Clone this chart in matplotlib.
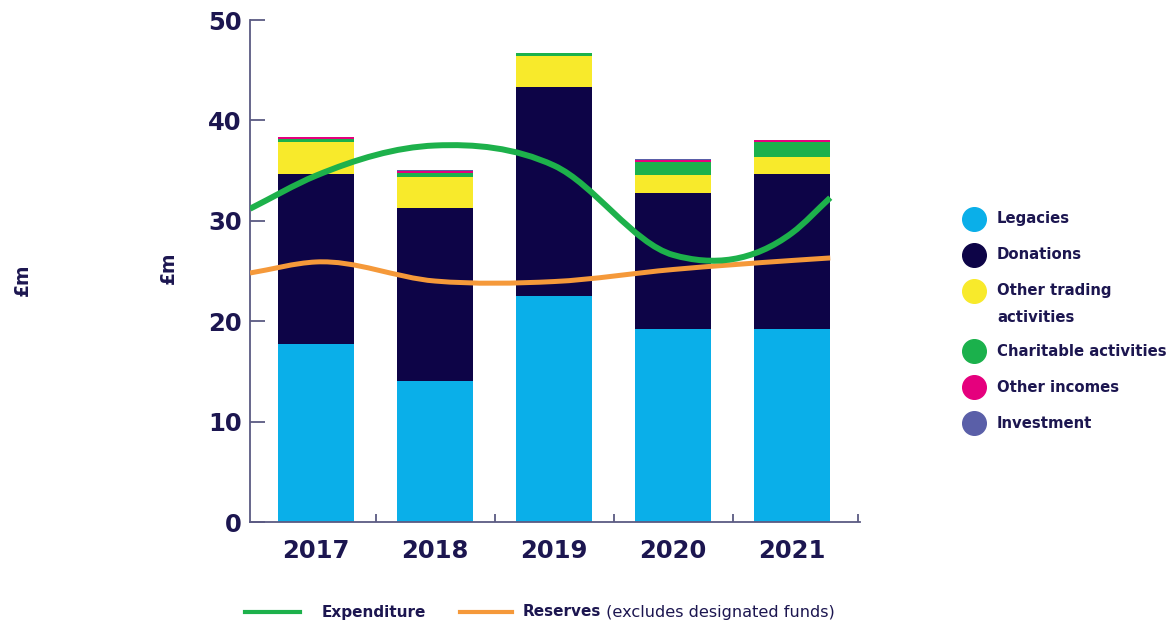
import numpy as np
import matplotlib
matplotlib.use("Agg")
import matplotlib.pyplot as plt
from matplotlib.path import Path
from matplotlib.patches import PathPatch
from matplotlib.lines import Line2D

plt.rcParams['font.family'] = ['DejaVu Sans']

# data
years = ['2017', '2018', '2019', '2020', '2021']
categories = ['Legacies', 'Donations', 'Other trading\nactivities',
              'Charitable activities', 'Other incomes', 'Investment']
legacies = [17.7, 14.0, 22.5, 19.2, 19.2]
donations = [17.0, 17.3, 20.8, 13.6, 15.5]
trading = [3.1, 3.1, 3.1, 1.8, 1.7]
charitable = [0.3, 0.4, 0.3, 1.3, 1.4]
other_incomes = [0.2, 0.2, 0.0, 0.2, 0.2]
investment = [0.05, 0.05, 0.05, 0.05, 0.05]

# line values at each year, plus where the curves begin / end
expenditure = [34.5, 37.5, 35.5, 26.6, 28.8]
expenditure_start, expenditure_end = 31.2, 32.3
reserves = [25.9, 24.0, 23.95, 25.15, 26.05]
reserves_start, reserves_end = 24.8, 26.3

colors = ['#0AAFE9', '#0D0447', '#F8EA2B', '#1BB14C', '#E5007D', '#5A5FA8']
navy = '#1c1650'
spine_col = '#5b5a82'
exp_col = '#1DB14B'
res_col = '#F5993A'


def smooth_path(xs, ys):
    xs = np.asarray(xs, float)
    ys = np.asarray(ys, float)
    h = np.diff(xs)
    s = np.diff(ys) / h
    m = np.empty(len(xs))
    m[0], m[-1] = s[0], s[-1]
    m[1:-1] = (s[:-1] * h[1:] + s[1:] * h[:-1]) / (h[:-1] + h[1:])
    verts = [(xs[0], ys[0])]
    codes = [Path.MOVETO]
    for i in range(len(xs) - 1):
        d = h[i] / 3
        verts += [(xs[i] + d, ys[i] + m[i] * d),
                  (xs[i + 1] - d, ys[i + 1] - m[i + 1] * d),
                  (xs[i + 1], ys[i + 1])]
        codes += [Path.CURVE4] * 3
    return Path(verts, codes)


fig = plt.figure(figsize=(11.69, 6.25), dpi=100)
ax = fig.add_axes([250 / 1169, 1 - 522 / 625, 610 / 1169, 502 / 625])

x = np.arange(len(years))
width = 0.64
xlim = (-0.555, 4.57)
series = [legacies, donations, trading, charitable, other_incomes, investment]
bottom = np.zeros(len(years))
for vals, c in zip(series, colors):
    ax.bar(x, vals, width, bottom=bottom, color=c, zorder=2)
    bottom += np.array(vals)

line_x = [xlim[0]] + list(x) + [x[-1] + width / 2]
ax.add_patch(PathPatch(smooth_path(line_x, [reserves_start] + reserves + [reserves_end]),
                       fill=False, edgecolor=res_col, lw=3.6, capstyle='butt', zorder=3))
ax.add_patch(PathPatch(smooth_path(line_x, [expenditure_start] + expenditure + [expenditure_end]),
                       fill=False, edgecolor=exp_col, lw=4.3, capstyle='butt', zorder=4))

ax.set_xlim(*xlim)
ax.set_ylim(0, 50)
ax.set_yticks(range(0, 51, 10))
ax.set_xticks(x)
ax.set_xticklabels(years)
ax.set_xticks([0.5, 1.5, 2.5, 3.5, 4.55], minor=True)
for s in ['top', 'right']:
    ax.spines[s].set_visible(False)
for s in ['left', 'bottom']:
    ax.spines[s].set_color(spine_col)
    ax.spines[s].set_linewidth(1.3)
ax.tick_params(axis='y', direction='in', length=11, width=1.3, color=spine_col,
               pad=6, labelsize=17.5, labelcolor=navy)
ax.tick_params(axis='x', which='major', length=0, pad=12, labelsize=17.5, labelcolor=navy)
ax.tick_params(axis='x', which='minor', direction='in', length=6, width=1.3, color=spine_col)
for lab in ax.get_xticklabels() + ax.get_yticklabels():
    lab.set_fontweight('bold')

ax.set_ylabel('£m', fontsize=13.5, fontweight='bold', color=navy, va='center', ha='center')
ax.yaxis.set_label_coords((168 - 250) / 610, (522 - 268) / 502)
fig.text(22 / 1169, 1 - 280 / 625, '£m', rotation=90, fontsize=13.5, fontweight='bold',
         color=navy, ha='center', va='center')

# category legend on the right
leg_y = [219, 255, 291, 351, 387, 423]
for lab, c, yy in zip(categories, colors, leg_y):
    fig.add_artist(Line2D([974 / 1169], [1 - yy / 625], marker='o', markersize=17, color=c,
                          transform=fig.transFigure))
    for j, part in enumerate(lab.split('\n')):
        fig.text(997 / 1169, 1 - (yy + 27 * j) / 625, part, fontsize=10.7, fontweight='bold',
                 color=navy, va='center')

# line legend at the bottom
ly = 1 - 612 / 625
fig.add_artist(Line2D([245 / 1169, 300 / 1169], [ly, ly], color=exp_col, lw=3,
                      transform=fig.transFigure))
fig.text(322 / 1169, ly, 'Expenditure', fontsize=11, fontweight='bold', color=navy, va='center')
fig.add_artist(Line2D([460 / 1169, 512 / 1169], [ly, ly], color=res_col, lw=3,
                      transform=fig.transFigure))
t = fig.text(523 / 1169, ly, 'Reserves', fontsize=11, fontweight='bold', color=navy, va='center')
ax.annotate(' (excludes designated funds)', xy=(1, 0.5), xycoords=t, va='center',
            fontsize=11.6, color=navy)

fig.savefig('out.png', dpi=100)
